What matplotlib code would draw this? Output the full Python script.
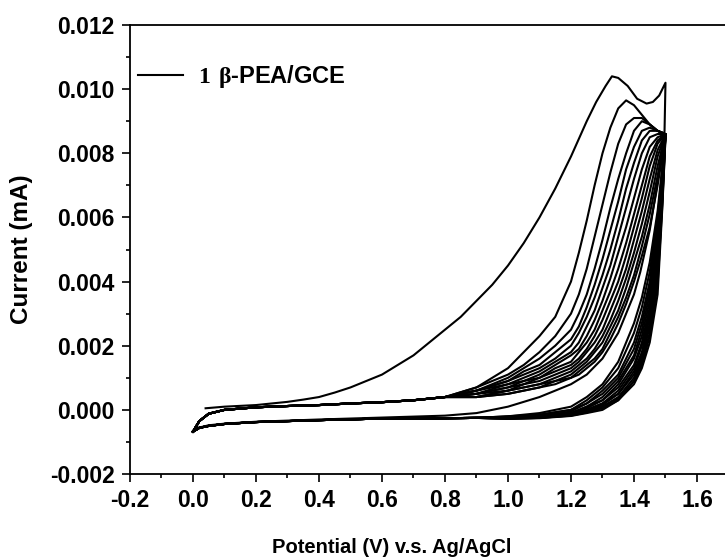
import matplotlib.pyplot as plt
from matplotlib.ticker import MultipleLocator, FormatStrFormatter

plt.rcParams['font.family'] = ['Liberation Sans', 'DejaVu Sans']
plt.rcParams['font.weight'] = 'bold'
plt.rcParams['axes.unicode_minus'] = False
plt.rcParams['mathtext.fontset'] = 'custom'
plt.rcParams['mathtext.rm'] = 'Liberation Serif'

# ---- cycle 1 (first scan, starts at 0.04 V) ----
c1_fwd_E = [0.04, 0.1, 0.2, 0.3, 0.35, 0.4, 0.45, 0.5, 0.55, 0.6, 0.65, 0.7, 0.75, 0.8, 0.85,
            0.9, 0.95, 1.0, 1.05, 1.1, 1.15, 1.2, 1.25, 1.28, 1.31, 1.33, 1.35, 1.38, 1.41,
            1.44, 1.46, 1.48, 1.5]
c1_fwd_I = [0.00005, 0.0001, 0.00015, 0.00025, 0.00032, 0.0004, 0.00054, 0.0007, 0.0009,
            0.0011, 0.0014, 0.0017, 0.0021, 0.0025, 0.0029, 0.0034, 0.0039, 0.0045, 0.0052,
            0.0060, 0.0069, 0.0079, 0.0090, 0.0096, 0.0101, 0.0104, 0.01035, 0.0101, 0.0097,
            0.00955, 0.0096, 0.0098, 0.0102]
c1_rev_E = [1.5, 1.497, 1.49, 1.47, 1.45, 1.42, 1.4, 1.35, 1.3, 1.25, 1.2, 1.1, 1.0, 0.9, 0.8,
            0.6, 0.4, 0.2, 0.1, 0.05, 0.02, 0.0]
c1_rev_I = [0.0102, 0.0087, 0.0082, 0.0068, 0.0056, 0.0043, 0.0036, 0.0024, 0.0016, 0.0011,
            0.0008, 0.0004, 0.0001, -0.0001, -0.00018, -0.00024, -0.0003, -0.00037, -0.00043,
            -0.00048, -0.00055, -0.00066]

# ---- cycles 2-15: shared low-potential parts ----
fwd_lo_E = [0.0, 0.02, 0.05, 0.1, 0.2, 0.3, 0.4, 0.5, 0.6, 0.7, 0.8]
fwd_lo_I = [-0.00068, -0.00035, -0.00012, 0.0, 0.00008, 0.00012, 0.00015, 0.0002, 0.00024,
            0.0003, 0.0004]
rev_lo_E = [0.9, 0.8, 0.6, 0.4, 0.2, 0.1, 0.05, 0.02, 0.0]
rev_lo_I = [-0.00025, -0.00026, -0.00027, -0.00032, -0.00038, -0.00044, -0.0005, -0.00056,
            -0.00068]

# forward scans, high-potential part (one row per cycle 2..15)
fwd_hi_E = [0.9, 1.0, 1.05, 1.1, 1.15, 1.2, 1.225, 1.25, 1.275, 1.3, 1.325, 1.35, 1.375, 1.4,
            1.425, 1.45, 1.475, 1.5]
fwd_hi_I = [
    [0.0007, 0.0013, 0.0018, 0.0023, 0.0029, 0.0040, 0.0049, 0.0059, 0.0070, 0.0080, 0.0088, 0.0094, 0.00965, 0.0095, 0.0092, 0.0089, 0.0087, 0.0086],
    [0.0007, 0.0011, 0.0014, 0.0018, 0.0023, 0.0030, 0.0036, 0.0044, 0.0054, 0.0064, 0.0074, 0.0083, 0.0089, 0.0091, 0.0091, 0.0089, 0.0087, 0.0086],
    [0.0006, 0.0010, 0.0013, 0.0016, 0.0020, 0.0025, 0.0030, 0.0036, 0.0044, 0.0053, 0.0063, 0.0072, 0.0080, 0.0087, 0.0090, 0.0089, 0.0087, 0.0086],
    [0.0006, 0.0009, 0.0012, 0.0014, 0.0018, 0.0022, 0.0026, 0.0032, 0.0039, 0.0047, 0.0056, 0.0065, 0.0075, 0.0082, 0.0087, 0.0088, 0.0087, 0.0086],
    [0.0006, 0.0009, 0.0011, 0.0013, 0.0016, 0.0020, 0.0024, 0.0029, 0.0035, 0.0042, 0.0050, 0.0059, 0.0069, 0.0077, 0.0084, 0.0087, 0.0087, 0.0086],
    [0.0006, 0.0008, 0.0010, 0.0012, 0.0015, 0.0018, 0.0021, 0.0026, 0.0031, 0.0038, 0.0045, 0.0054, 0.0063, 0.0072, 0.0080, 0.0085, 0.0086, 0.0086],
    [0.0005, 0.0008, 0.0009, 0.0011, 0.0014, 0.0017, 0.0019, 0.0023, 0.0028, 0.0034, 0.0041, 0.0049, 0.0057, 0.0066, 0.0075, 0.0082, 0.0085, 0.0086],
    [0.0005, 0.0007, 0.0009, 0.0010, 0.0013, 0.0015, 0.0018, 0.0021, 0.0025, 0.0031, 0.0037, 0.0044, 0.0052, 0.0061, 0.0070, 0.0079, 0.0084, 0.0086],
    [0.0005, 0.0007, 0.0008, 0.0010, 0.0012, 0.0014, 0.0016, 0.0019, 0.0023, 0.0028, 0.0034, 0.0040, 0.0048, 0.0057, 0.0066, 0.0076, 0.0083, 0.0086],
    [0.0005, 0.0006, 0.0008, 0.0009, 0.0011, 0.0013, 0.0015, 0.0018, 0.0021, 0.0025, 0.0031, 0.0037, 0.0044, 0.0053, 0.0062, 0.0072, 0.0081, 0.0086],
    [0.0004, 0.0006, 0.0007, 0.0008, 0.0010, 0.0012, 0.0014, 0.0016, 0.0019, 0.0023, 0.0028, 0.0034, 0.0041, 0.0049, 0.0058, 0.0068, 0.0079, 0.0086],
    [0.0004, 0.0006, 0.0007, 0.0008, 0.0009, 0.0011, 0.0013, 0.0015, 0.0018, 0.0021, 0.0026, 0.0031, 0.0038, 0.0046, 0.0054, 0.0064, 0.0076, 0.0086],
    [0.0004, 0.0005, 0.0006, 0.0007, 0.0009, 0.0010, 0.0012, 0.0014, 0.0016, 0.0019, 0.0024, 0.0029, 0.0035, 0.0042, 0.0051, 0.0061, 0.0073, 0.0085],
    [0.0004, 0.0005, 0.0006, 0.0007, 0.0008, 0.0010, 0.0011, 0.0013, 0.0015, 0.0018, 0.0022, 0.0027, 0.0033, 0.0040, 0.0048, 0.0057, 0.0070, 0.0085],
]

# reverse scans, high-potential part (one row per cycle 2..15)
rev_hi_E = [1.5, 1.49, 1.475, 1.45, 1.425, 1.4, 1.35, 1.3, 1.25, 1.2, 1.1, 1.0]
rev_hi_I = [
    [0.0086, 0.0076, 0.0062, 0.0046, 0.0035, 0.0027, 0.0015, 0.0008, 0.0004, 0.0001, -0.0001, -0.0002],
    [0.0086, 0.0075, 0.0060, 0.0043, 0.0032, 0.0024, 0.0013, 0.0007, 0.0003, 0.0, -0.00015, -0.0002],
    [0.0086, 0.0074, 0.0058, 0.0040, 0.0029, 0.0021, 0.0011, 0.0006, 0.0002, 0.0, -0.00015, -0.00022],
    [0.0086, 0.0073, 0.0056, 0.0038, 0.0027, 0.0019, 0.0010, 0.0005, 0.0002, -0.00005, -0.0002, -0.00022],
    [0.0086, 0.0072, 0.0054, 0.0036, 0.0025, 0.0017, 0.0009, 0.0004, 0.0001, -0.0001, -0.0002, -0.00023],
    [0.0086, 0.0071, 0.0052, 0.0034, 0.0023, 0.0016, 0.0008, 0.0003, 0.0001, -0.0001, -0.0002, -0.00024],
    [0.0086, 0.0070, 0.0051, 0.0032, 0.0021, 0.0014, 0.0007, 0.0003, 0.00005, -0.00012, -0.00022, -0.00025],
    [0.0086, 0.0069, 0.0049, 0.0030, 0.0020, 0.0013, 0.0006, 0.0002, 0.0, -0.00013, -0.00023, -0.00025],
    [0.0086, 0.0068, 0.0047, 0.0029, 0.0018, 0.0012, 0.0005, 0.0002, 0.0, -0.00014, -0.00023, -0.00026],
    [0.0086, 0.0067, 0.0045, 0.0027, 0.0017, 0.0011, 0.0005, 0.00015, -0.00003, -0.00015, -0.00024, -0.00026],
    [0.0086, 0.0066, 0.0043, 0.0026, 0.0016, 0.0010, 0.0004, 0.0001, -0.00005, -0.00016, -0.00024, -0.00027],
    [0.0086, 0.0065, 0.0041, 0.0024, 0.0015, 0.0009, 0.00035, 0.0001, -0.00006, -0.00017, -0.00025, -0.00027],
    [0.0085, 0.0064, 0.0039, 0.0023, 0.0014, 0.0009, 0.0003, 0.00005, -0.00008, -0.00018, -0.00025, -0.00028],
    [0.0085, 0.0063, 0.0036, 0.0021, 0.0013, 0.0008, 0.0003, 0.0, -0.0001, -0.00019, -0.00026, -0.00028],
]

legend_label = r"$\mathrm{1\ \beta}$-PEA/GCE"

fig = plt.figure(figsize=(7.25, 5.58), dpi=100)
# right end of the x axis (1.7) sits just past the image edge, as in the original
ax = fig.add_axes([0.1793, 0.1505, 0.8255, 0.8047])

# first cycle
ax.plot(c1_fwd_E + c1_rev_E, c1_fwd_I + c1_rev_I, color='black', lw=1.5, label=legend_label)

# remaining cycles
for f_row, r_row in zip(fwd_hi_I, rev_hi_I):
    E = fwd_lo_E + fwd_hi_E + rev_hi_E + rev_lo_E
    I = fwd_lo_I + f_row + r_row + rev_lo_I
    ax.plot(E, I, color='black', lw=1.5)

ax.set_xlim(-0.2, 1.7)
ax.set_ylim(-0.002, 0.012)

ax.xaxis.set_major_locator(MultipleLocator(0.2))
ax.xaxis.set_minor_locator(MultipleLocator(0.1))
ax.yaxis.set_major_locator(MultipleLocator(0.002))
ax.yaxis.set_minor_locator(MultipleLocator(0.001))
ax.xaxis.set_major_formatter(FormatStrFormatter('%.1f'))
ax.yaxis.set_major_formatter(FormatStrFormatter('%.3f'))

for s in ax.spines.values():
    s.set_linewidth(1.3)
ax.tick_params(which='major', direction='out', length=6, width=1.2, labelsize=16.5, pad=5)
ax.tick_params(which='minor', direction='out', length=3, width=1.2)
ax.tick_params(top=False, right=False, which='both')

ax.set_xlabel('Potential (V) v.s. Ag/AgCl', fontsize=14.5, fontweight='bold')
ax.set_ylabel('Current (mA)', fontsize=17.5, fontweight='bold')
ax.xaxis.set_label_coords(0.438, -0.143)
ax.yaxis.set_label_coords(-0.162, 0.5)

ax.legend(loc='upper left', bbox_to_anchor=(0.0134, 0.915), frameon=False, fontsize=17,
          handlelength=1.9, handletextpad=0.62, borderpad=0, borderaxespad=0)

plt.savefig('out.png', dpi=100)
